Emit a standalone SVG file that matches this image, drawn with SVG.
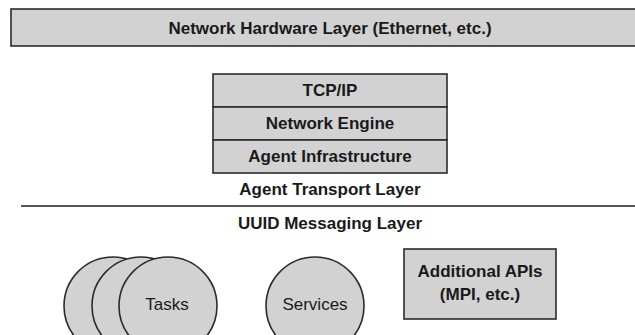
<svg xmlns="http://www.w3.org/2000/svg" width="635" height="335" viewBox="0 0 635 335">
  <style>
    .box { fill: #d2d2d3; stroke: #2b2b2b; stroke-width: 1.6; }
    .lbl { font-family: "Liberation Sans", Arial, sans-serif; font-size: 17px; font-weight: bold; fill: #1a1a1a; text-anchor: middle; }
    .reg { font-family: "Liberation Sans", Arial, sans-serif; font-size: 17px; fill: #1a1a1a; text-anchor: middle; }
    .rule { stroke: #1e1e1e; stroke-width: 1.6; }
  </style>

  <!-- Network hardware layer (runs off the right edge) -->
  <g id="hardware">
    <rect class="box" x="11" y="9" width="640" height="37"/>
    <text class="lbl" x="330" y="34">Network Hardware Layer (Ethernet, etc.)</text>
  </g>

  <!-- Agent transport stack -->
  <g id="tcpip">
    <rect class="box" x="213" y="74" width="234" height="33"/>
    <text class="lbl" x="330" y="96">TCP/IP</text>
  </g>
  <g id="network-engine">
    <rect class="box" x="213" y="107" width="234" height="33"/>
    <text class="lbl" x="330" y="129">Network Engine</text>
  </g>
  <g id="agent-infrastructure">
    <rect class="box" x="213" y="140" width="234" height="33"/>
    <text class="lbl" x="330" y="162">Agent Infrastructure</text>
  </g>
  <g id="transport-label">
    <text class="lbl" x="330" y="195">Agent Transport Layer</text>
  </g>

  <!-- Layer divider -->
  <g id="connectors">
    <line class="rule" x1="21" y1="206" x2="635" y2="206"/>
  </g>

  <g id="messaging-label">
    <text class="lbl" x="330" y="229">UUID Messaging Layer</text>
  </g>

  <!-- Tasks (stacked circles) -->
  <g id="tasks">
    <circle class="box" cx="113" cy="306" r="49"/>
    <circle class="box" cx="141" cy="306" r="49"/>
    <circle class="box" cx="168" cy="306" r="49"/>
    <text class="reg" x="167" y="310">Tasks</text>
  </g>

  <!-- Services -->
  <g id="services">
    <circle class="box" cx="315" cy="306" r="49"/>
    <text class="reg" x="315" y="310">Services</text>
  </g>

  <!-- Additional APIs -->
  <g id="additional-apis">
    <rect class="box" x="404" y="249" width="152" height="70"/>
    <text class="lbl" x="480" y="277">Additional APIs</text>
    <text class="lbl" x="480" y="300">(MPI, etc.)</text>
  </g>
</svg>
